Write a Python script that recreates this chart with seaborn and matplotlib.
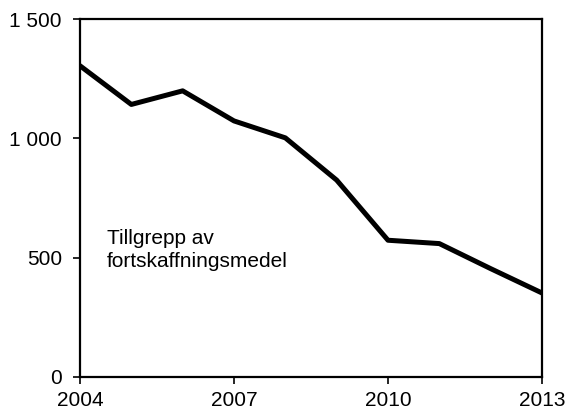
import matplotlib
matplotlib.use("Agg")
import matplotlib.pyplot as plt
import seaborn as sns
import pandas as pd

years = [2004, 2005, 2006, 2007, 2008, 2009, 2010, 2011, 2012, 2013]
values = [1304, 1142, 1199, 1073, 1002, 825, 573, 559, 454, 352]
x_ticks = [2004, 2007, 2010, 2013]
y_ticks = [0, 500, 1000, 1500]
y_tick_labels = ["0", "500", "1 000", "1 500"]
label_text = "Tillgrepp av\nfortskaffningsmedel"

sns.set_style("white")
plt.rcParams["font.family"] = ["Liberation Sans", "DejaVu Sans"]

df = pd.DataFrame({"year": years, "value": values})

fig = plt.figure(figsize=(5.68, 4.12), dpi=100)
ax = fig.add_axes([80 / 568, 1 - 377 / 412, (542 - 80) / 568, (377 - 19) / 412])
sns.lineplot(data=df, x="year", y="value", ax=ax, color="black", linewidth=3.6)

ax.set_xlim(2004, 2013)
ax.set_ylim(0, 1500)
ax.set_xticks(x_ticks)
ax.set_xticklabels([str(t) for t in x_ticks])
ax.set_yticks(y_ticks)
ax.set_yticklabels(y_tick_labels)
ax.set_xlabel("")
ax.set_ylabel("")
for s in ax.spines.values():
    s.set_visible(True)
    s.set_color("black")
    s.set_linewidth(1.6)
ax.tick_params(axis="both", which="major", direction="out", length=5, width=1.2,
               color="black", labelsize=15, labelcolor="black",
               bottom=True, left=True, top=False, right=False)
ax.tick_params(axis="x", pad=5)
ax.tick_params(axis="y", pad=8)
ax.text(2004.52, 533, label_text, fontsize=15, va="center", ha="left",
        linespacing=1.25, color="black")
ax.grid(False)

fig.savefig("out.png", dpi=100)
